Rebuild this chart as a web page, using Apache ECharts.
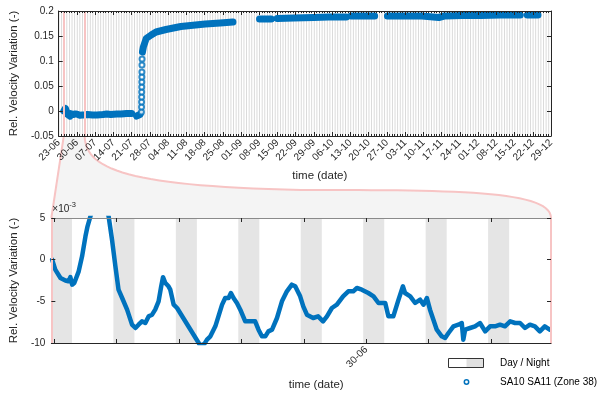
<!DOCTYPE html>
<html>
<head>
<meta charset="utf-8">
<script src="https://cdn.jsdelivr.net/npm/echarts@6/dist/echarts.min.js"></script>
<style>
  html, body { margin: 0; padding: 0; background: #fff; }
  #chart { width: 597px; height: 395px; }
</style>
</head>
<body>
<div id="chart"></div>
<script>
// day 0 = 23-06 00:00, x values are in days
const DAY_MS = 86400000;
const origin = Date.UTC(2019, 5, 23);

const topRange = [0, 189];          // 23-06 .. 29-12
const zoomRange = [1.958, 9.958];   // 24-06 23:00 .. 02-07 23:00
const zoomTickDays = [2, 3, 4, 5, 6, 7, 8, 9];
const zoomLabelDays = [7];          // 30-06
const nightStart = -0.049;          // ~22:50
const nightEnd = 0.288;             // ~06:55

// zoomed window, hours after 25-06 00:00 and values (x 10^-3)
const zoomHours = [-0.7, 0.5, 2.5, 4.4, 5.6, 6.3, 7.0, 7.8, 9.5, 10.8, 12.1, 12.9, 14.0, 17.4, 21.0, 22.3,
  23.6, 24.8, 26.2, 28.1, 30.0, 31.3, 32.5, 33.8, 35.1, 36.4, 37.7, 38.9, 40.2, 41.2, 41.9, 42.8,
  44.0, 44.7, 46.0, 47.3, 56.2, 57.8, 58.8, 60.1, 62.0, 63.2, 64.6, 65.8, 67.1, 68.0, 69.0, 70.3,
  71.6, 73.5, 75.4, 77.3, 78.6, 79.9, 81.2, 82.4, 83.8, 85.7, 87.6, 89.5, 91.4, 92.7, 94.6, 95.8,
  97.2, 99.6, 101.5, 103.4, 104.9, 106.8, 108.7, 111.1, 113.1, 115.0, 116.4, 118.3, 120.8, 122.8,
  124.7, 127.3, 128.5, 130.4, 132.4, 134.1, 134.9, 136.9, 138.8, 140.7, 142.0, 143.3, 144.5, 145.8,
  147.1, 149.0, 150.3, 151.6, 153.5, 155.4, 156.7, 157.3, 158.0, 159.9, 161.8, 163.7, 165.7, 167.6,
  169.5, 171.4, 173.3, 175.3, 177.2, 179.1, 181.0, 182.9, 184.8, 186.7, 188.6, 190.5];
const zoomVals = [0.0, -1.2, -2.2, -2.5, -2.6, -2.1, -3.0, -2.8, -1.4, 0.4, 2.8, 4.0, 5.2, 9.0, 5.2, 2.4,
  -0.8, -3.6, -4.6, -6.0, -7.8, -8.2, -7.8, -7.4, -7.6, -6.8, -6.6, -6.0, -5.0, -3.2, -2.1, -2.8,
  -3.2, -3.6, -5.4, -5.8, -10.3, -10.1, -9.6, -9.2, -8.0, -6.8, -5.4, -4.6, -4.6, -4.0, -4.6, -5.2,
  -6.0, -7.4, -7.4, -7.4, -8.4, -9.2, -9.2, -8.6, -8.4, -7.0, -5.0, -3.8, -3.0, -3.2, -4.4, -5.6,
  -6.6, -7.0, -6.8, -7.4, -6.8, -5.8, -5.4, -4.4, -3.8, -3.8, -3.4, -3.6, -4.0, -4.4,
  -5.2, -5.2, -6.8, -6.8, -4.8, -3.2, -4.0, -4.4, -5.2, -4.8, -5.4, -4.6, -6.0, -7.2,
  -8.4, -9.2, -9.4, -8.8, -8.0, -7.8, -7.6, -9.6, -8.4, -8.2, -8.0, -7.6, -8.6, -8.0,
  -8.0, -7.8, -8.0, -7.4, -7.6, -7.6, -8.2, -7.8, -8.0, -8.6, -8.0, -8.4];

// rest of the record (days after 23-06), null = data gap
const topDays = [10.5, 11.0, 13.0, 14.7, 17.0, 18.5, 20.0, 22.3, 24.0, 26.1, 28.0, null,
  29.9, 30.6, 31.2, null,
  32.15, 32.5, 33.6, 35.5, 37.4, 41.2, 46.9, 52.5, 56.3, 62.0, 66.9, null,
  77.1, 79.4, 81.6, null,
  83.9, 90.3, 97.9, 103.6, 110.4, null,
  112.2, 116.8, 121.3, null,
  126.2, 131.9, 139.5, 145.9, 148.0, 154.6, 162.1, 169.7, 177.2, null,
  179.9, 184.0];
const topVals = [-0.008, -0.007, -0.008, -0.008, -0.007, -0.006, -0.007, -0.006, -0.006, -0.005, -0.005, null,
  -0.010, -0.011, -0.007, null,
  0.118, 0.128, 0.145, 0.152, 0.158, 0.163, 0.169, 0.172, 0.174, 0.176, 0.178, null,
  0.184, 0.184, 0.184, null,
  0.185, 0.186, 0.187, 0.188, 0.188, null,
  0.190, 0.190, 0.190, null,
  0.190, 0.190, 0.190, 0.187, 0.190, 0.191, 0.191, 0.192, 0.192, null,
  0.192, 0.192];

// sparse points of the fast rise
const riseDays = [31.75, 31.8, 31.82, 31.84, 31.86, 31.88, 31.9, 31.92, 31.94, 31.96, 32.0];
const riseVals = [-0.002, 0.008, 0.018, 0.028, 0.038, 0.048, 0.058, 0.068, 0.078, 0.092, 0.104];

const blue = '#0072BD';
const ink = '#262626';
const pink = '#f7c4c4';
const font = 'Liberation Sans, Arial, sans-serif';

const pad = n => (n < 10 ? '0' : '') + n;
function dayLabel(d) {
  const t = new Date(origin + Math.round(d) * DAY_MS);
  return pad(t.getUTCDate()) + '-' + pad(t.getUTCMonth() + 1);
}

function nightBands(lo, hi) {
  const out = [];
  for (let d = Math.floor(lo); d <= Math.ceil(hi) + 1; d++) {
    const a = Math.max(lo, d + nightStart);
    const b = Math.min(hi, d + nightEnd);
    if (b > a) out.push([{ xAxis: a }, { xAxis: b }]);
  }
  return out;
}

const zoomLine = zoomHours.map((h, i) => [2 + h / 24, zoomVals[i]]);
const topLine = zoomHours.map((h, i) => [2 + h / 24, zoomVals[i] / 1000])
  .concat(topDays.map((d, i) => (d === null ? [null, null] : [d, topVals[i]])));
const rise = riseDays.map((d, i) => [d, riseVals[i]]);

const chart = echarts.init(document.getElementById('chart'));

const tickText = { color: ink, fontFamily: font, fontSize: 10 };
const titleText = { color: ink, fontFamily: font, fontSize: 11.5 };

function boxAxis(extra) {
  return Object.assign({
    type: 'value',
    z: 5,
    splitLine: { show: false },
    axisLine: { show: true, onZero: false, lineStyle: { color: ink, width: 1 } },
    axisTick: { show: true, inside: true, length: 4, lineStyle: { color: ink } },
    axisLabel: { show: false },
  }, extra);
}

const option = {
  animation: false,
  backgroundColor: '#fff',
  grid: [
    { left: 51, top: 11, width: 500, height: 125 },
    { left: 51, top: 218, width: 500, height: 125 }
  ],
  xAxis: [
    boxAxis({
      gridIndex: 0, position: 'bottom', min: topRange[0], max: topRange[1], interval: 7,
      minorTick: { show: true, splitNumber: 7, length: 2, lineStyle: { color: ink } },
      axisLabel: Object.assign({ show: true, rotate: 45, margin: 5, interval: 0, hideOverlap: false,
        formatter: v => dayLabel(v) }, tickText),
      name: 'time (date)', nameLocation: 'middle', nameGap: 34,
      nameTextStyle: Object.assign({ padding: [0, 0, 0, 30] }, titleText)
    }),
    boxAxis({
      gridIndex: 0, position: 'top', min: topRange[0], max: topRange[1], interval: 7,
      minorTick: { show: true, splitNumber: 7, length: 2, lineStyle: { color: ink } }
    }),
    boxAxis({
      gridIndex: 1, position: 'bottom', min: zoomRange[0], max: zoomRange[1],
      axisTick: { show: true, inside: true, length: 4, customValues: zoomTickDays, lineStyle: { color: ink } },
      axisLabel: Object.assign({ show: true, rotate: 45, margin: 5, customValues: zoomLabelDays,
        formatter: v => dayLabel(v) }, tickText),
      name: 'time (date)', nameLocation: 'middle', nameGap: 36,
      nameTextStyle: Object.assign({ padding: [0, 0, 0, 30] }, titleText)
    }),
    boxAxis({
      gridIndex: 1, position: 'top', min: zoomRange[0], max: zoomRange[1],
      axisLine: { show: true, onZero: false, lineStyle: { color: '#8a8a8a', width: 1 } },
      axisTick: { show: true, inside: true, length: 4, customValues: zoomTickDays, lineStyle: { color: ink } }
    })
  ],
  yAxis: [
    boxAxis({
      gridIndex: 0, position: 'left', min: -0.05, max: 0.2, interval: 0.05,
      axisLabel: Object.assign({ show: true, margin: 5, formatter: v => String(Math.round(v * 100) / 100) }, tickText),
      name: 'Rel. Velocity Variation (-)', nameLocation: 'middle', nameGap: 32, nameTextStyle: titleText
    }),
    boxAxis({ gridIndex: 0, position: 'right', min: -0.05, max: 0.2, interval: 0.05 }),
    boxAxis({
      gridIndex: 1, position: 'left', min: -10, max: 5, interval: 5,
      axisLine: { show: true, onZero: false, lineStyle: { color: pink, width: 2 } },
      axisLabel: Object.assign({ show: true, margin: 6 }, tickText),
      name: 'Rel. Velocity Variation (-)', nameLocation: 'middle', nameGap: 24, nameTextStyle: titleText
    }),
    boxAxis({
      gridIndex: 1, position: 'right', min: -10, max: 5, interval: 5,
      axisLine: { show: true, onZero: false, lineStyle: { color: pink, width: 2 } }
    })
  ],
  series: [
    {
      name: 'nightTop', type: 'line', xAxisIndex: 0, yAxisIndex: 0, data: [], z: 1, silent: true,
      markArea: { silent: true, itemStyle: { color: '#d6d6d6' }, data: nightBands(topRange[0], topRange[1]) },
      markLine: {
        silent: true, symbol: 'none', label: { show: false },
        lineStyle: { color: pink, width: 2, type: 'solid' },
        data: [{ xAxis: zoomRange[0] }, { xAxis: zoomRange[1] }]
      }
    },
    {
      name: 'SA10 SA11 (Zone 38)', type: 'line', xAxisIndex: 0, yAxisIndex: 0, data: topLine, z: 3,
      showSymbol: false, connectNulls: false,
      lineStyle: { color: blue, width: 7, cap: 'round', join: 'round' }
    },
    {
      name: 'rise', type: 'scatter', xAxisIndex: 0, yAxisIndex: 0, data: rise, z: 3,
      symbol: 'emptyCircle', symbolSize: 5,
      itemStyle: { color: blue, borderColor: blue, borderWidth: 1.5 }
    },
    {
      name: 'nightZoom', type: 'line', xAxisIndex: 2, yAxisIndex: 2, data: [], z: 1, silent: true,
      markArea: { silent: true, itemStyle: { color: '#e5e5e5' }, data: nightBands(zoomRange[0], zoomRange[1]) }
    },
    {
      name: 'zoom', type: 'line', xAxisIndex: 2, yAxisIndex: 2, data: zoomLine, z: 3,
      showSymbol: false, clip: true,
      lineStyle: { color: blue, width: 4.5, cap: 'round', join: 'round' }
    }
  ]
};

chart.setOption(option);

// connector between the two panels: sampled cubic curves
function cubic(p0, p1, p2, p3, n) {
  const pts = [];
  for (let i = 0; i <= n; i++) {
    const t = i / n, u = 1 - t;
    pts.push([
      u * u * u * p0[0] + 3 * u * u * t * p1[0] + 3 * u * t * t * p2[0] + t * t * t * p3[0],
      u * u * u * p0[1] + 3 * u * u * t * p1[1] + 3 * u * t * t * p2[1] + t * t * t * p3[1]
    ]);
  }
  return pts;
}

const tl = chart.convertToPixel({ xAxisIndex: 0, yAxisIndex: 0 }, [zoomRange[0], -0.05]);
const tr = chart.convertToPixel({ xAxisIndex: 0, yAxisIndex: 0 }, [zoomRange[1], -0.05]);
const bl = chart.convertToPixel({ xAxisIndex: 2, yAxisIndex: 2 }, [zoomRange[0], 5]);
const br = chart.convertToPixel({ xAxisIndex: 2, yAxisIndex: 2 }, [zoomRange[1], 5]);
const mid = [bl[0] + (br[0] - bl[0]) * 0.5, bl[1] - 28];
const rightEdge = cubic(tr, [tr[0] + 1, tr[1] + 34], [tr[0] + 44, mid[1] - 4], mid, 30)
  .concat(cubic(mid, [br[0] - 100, mid[1]], [br[0], mid[1]], br, 30).slice(1));

chart.setOption({
  graphic: [
    {
      type: 'polygon', z: -5, silent: true,
      shape: { points: [tl].concat(rightEdge, [bl]) },
      style: { fill: '#f4f4f4', stroke: null }
    },
    {
      type: 'polyline', z: -4, silent: true,
      shape: { points: rightEdge },
      style: { fill: null, stroke: pink, lineWidth: 2 }
    },
    {
      type: 'line', z: -4, silent: true,
      shape: { x1: tl[0], y1: tl[1], x2: bl[0], y2: bl[1] },
      style: { stroke: pink, lineWidth: 2 }
    },
    {
      type: 'text', silent: true, x: bl[0] + 1, y: bl[1] - 1,
      style: {
        text: '×10{s|-3}', fill: ink, font: '10px ' + font, verticalAlign: 'bottom',
        rich: { s: { fontSize: 7.5, fontFamily: font, fill: ink, verticalAlign: 'top', padding: [0, 0, 8, 0] } }
      }
    },
    // legend
    { type: 'rect', silent: true, shape: { x: 448.5, y: 358.5, width: 18, height: 9 }, style: { fill: '#fff', stroke: null } },
    { type: 'rect', silent: true, shape: { x: 466.5, y: 358.5, width: 17, height: 9 }, style: { fill: '#e0e0e0', stroke: null } },
    { type: 'rect', silent: true, shape: { x: 448.5, y: 358.5, width: 35, height: 9 }, style: { fill: null, stroke: '#333', lineWidth: 1 } },
    { type: 'text', silent: true, x: 500, y: 363, style: { text: 'Day / Night', fill: '#000', font: '10px ' + font, verticalAlign: 'middle' } },
    { type: 'circle', silent: true, shape: { cx: 466.5, cy: 382, r: 2.2 }, style: { fill: '#fff', stroke: blue, lineWidth: 1.5 } },
    { type: 'text', silent: true, x: 500, y: 382, style: { text: 'SA10 SA11 (Zone 38)', fill: '#000', font: '10px ' + font, verticalAlign: 'middle' } }
  ]
});
</script>
</body>
</html>
